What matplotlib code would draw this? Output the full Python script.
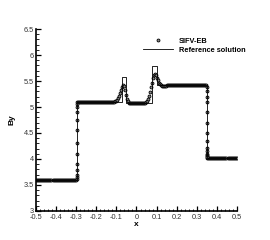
import matplotlib.pyplot as plt
import numpy as np
from matplotlib.ticker import MultipleLocator, FuncFormatter

plt.rcParams['font.family'] = ['Liberation Sans', 'DejaVu Sans']

# reference solution (piecewise constant)
x_ref = [-0.5, -0.298, -0.298, -0.071, -0.071, -0.051, -0.051, 0.079, 0.079,
         0.103, 0.103, 0.352, 0.352, 0.5]
by_ref = [3.6, 3.6, 5.1, 5.1, 5.58, 5.58, 5.07, 5.07, 5.78, 5.78, 5.42, 5.42,
          4.02, 4.02]

# numerical solution on the mesh (200 cells)
x_num = np.arange(-0.4975, 0.5, 0.005)
by_num = ([3.6] * 40
          + [5.1] * 38
          + [5.11, 5.12, 5.14, 5.17, 5.21, 5.27, 5.33, 5.39, 5.42, 5.40, 5.33,
             5.24, 5.16, 5.11, 5.08, 5.07]
          + [5.07] * 15
          + [5.09, 5.11, 5.15, 5.21, 5.29, 5.38, 5.47, 5.55, 5.61, 5.63, 5.61,
             5.56, 5.51, 5.47, 5.44, 5.42, 5.41, 5.40, 5.40, 5.40, 5.41]
          + [5.42] * 40
          + [4.02] * 30)

# points inside the two jumps
x_jump = [-0.298] * 12 + [0.352] * 14
by_jump = [3.62, 3.65, 3.7, 3.78, 3.9, 4.1, 4.3, 4.55, 4.75, 4.9, 5.0, 5.06,
           5.38, 5.3, 5.2, 5.1, 4.9, 4.7, 4.5, 4.35, 4.22, 4.15, 4.1, 4.07,
           4.05, 4.03]

fig = plt.figure(figsize=(2.7, 2.4), dpi=100)
ax = fig.add_axes([0.133, 0.121, 0.745, 0.758])

mk = dict(marker='o', ms=2.1, mfc='#8a8a8a', mec='black', mew=0.6, ls='none')
ax.plot(np.concatenate([x_num, x_jump]), by_num + by_jump, label='SIFV-EB', **mk)
ax.plot(x_ref, by_ref, color='black', lw=0.6, label='Reference solution')

ax.set_xlim(-0.5, 0.5)
ax.set_ylim(3, 6.5)
ax.xaxis.set_major_locator(MultipleLocator(0.1))
ax.xaxis.set_minor_locator(MultipleLocator(0.02))
ax.yaxis.set_major_locator(MultipleLocator(0.5))
ax.yaxis.set_minor_locator(MultipleLocator(0.1))
fmt = FuncFormatter(lambda v, p: '%g' % round(v, 6))
ax.xaxis.set_major_formatter(fmt)
ax.yaxis.set_major_formatter(fmt)

for s in ['top', 'right']:
    ax.spines[s].set_visible(False)
for s in ['left', 'bottom']:
    ax.spines[s].set_linewidth(1.2)
ax.tick_params(which='both', direction='in', top=False, right=False,
               labelsize=5.3, colors='black', labelcolor='#333333')
ax.tick_params(axis='x', pad=2.5)
ax.tick_params(axis='y', pad=1.5)
ax.tick_params(which='major', length=3.5, width=0.9)
ax.tick_params(which='minor', length=1.8, width=0.6)

ax.set_xlabel('x', fontsize=6, fontweight='bold', labelpad=0)
ax.set_ylabel('By', fontsize=6, fontweight='bold', labelpad=6)

leg = ax.legend(loc='upper left', bbox_to_anchor=(0.52, 0.97), frameon=False,
                fontsize=5.3, handlelength=4.0, handletextpad=0.8,
                labelspacing=0.25, borderaxespad=0)
for t in leg.get_texts():
    t.set_fontweight('bold')

fig.savefig('out.png', dpi=100)
